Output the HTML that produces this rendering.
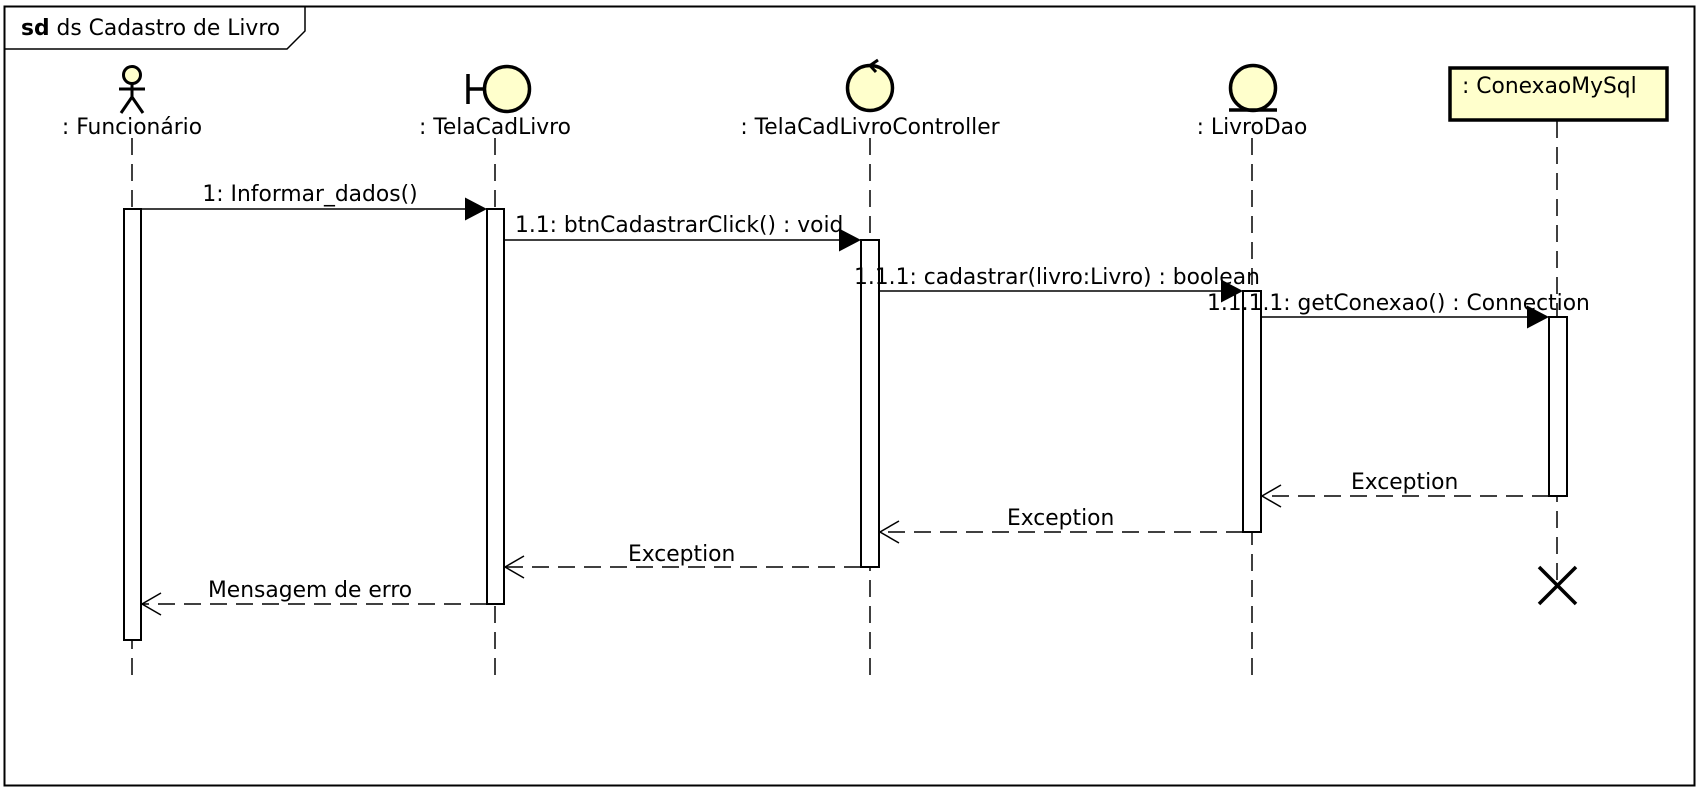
<!DOCTYPE html>
<html><head><meta charset="utf-8"><style>
html,body{margin:0;padding:0;background:#fff;}
svg{display:block;}
text{font-family:"DejaVu Sans","Liberation Sans",sans-serif;font-size:21.8px;fill:#000;}
</style></head><body>
<svg width="1700" height="791" viewBox="0 0 1700 791" xmlns="http://www.w3.org/2000/svg">
<rect x="0" y="0" width="1700" height="791" fill="#fff"/>
<!-- frame -->
<rect x="4.5" y="6.5" width="1690" height="779" fill="none" stroke="#000" stroke-width="2"/>
<path d="M4.5 49 L287 49 L305 31 L305 6.5" fill="none" stroke="#000" stroke-width="1.5"/>
<text x="21" y="35"><tspan font-weight="bold">sd</tspan> ds Cadastro de Livro</text>

<!-- lifelines -->
<g stroke="#000" stroke-width="1.5" stroke-dasharray="17,9" fill="none">
<line x1="132" y1="138" x2="132" y2="680"/>
<line x1="495" y1="138" x2="495" y2="680"/>
<line x1="870" y1="138" x2="870" y2="680"/>
<line x1="1252" y1="138" x2="1252" y2="680"/>
<line x1="1557" y1="121" x2="1557" y2="585"/>
</g>

<!-- actor -->
<g stroke="#000" stroke-width="3" fill="none">
<circle cx="132" cy="75" r="8.5" fill="#ffffcc"/>
<line x1="132" y1="84" x2="132" y2="97"/>
<line x1="119" y1="89" x2="145" y2="89"/>
<line x1="132" y1="97" x2="121" y2="113"/>
<line x1="132" y1="97" x2="143" y2="113"/>
</g>
<text x="132" y="134" text-anchor="middle">: Funcionário</text>

<!-- boundary -->
<g stroke="#000" stroke-width="3.5" fill="none">
<line x1="468" y1="74" x2="468" y2="104"/>
<line x1="468" y1="89" x2="484" y2="89"/>
<circle cx="507" cy="89" r="22.5" fill="#ffffcc"/>
</g>
<text x="495" y="134" text-anchor="middle">: TelaCadLivro</text>

<!-- control -->
<g stroke="#000" stroke-width="3.5" fill="none">
<circle cx="870" cy="88" r="22.5" fill="#ffffcc"/>
<path d="M878 60 L870 65.5 L876 72" stroke-width="3"/>
</g>
<text x="870" y="134" text-anchor="middle">: TelaCadLivroController</text>

<!-- entity -->
<g stroke="#000" stroke-width="3.5" fill="none">
<circle cx="1253" cy="88" r="22.5" fill="#ffffcc"/>
<line x1="1229" y1="110" x2="1277" y2="110"/>
</g>
<text x="1252" y="134" text-anchor="middle">: LivroDao</text>

<!-- class box -->
<rect x="1450" y="68" width="217" height="52" fill="#ffffcc" stroke="#000" stroke-width="3.5"/>
<text x="1462" y="93">: ConexaoMySql</text>

<!-- activations -->
<g fill="#fff" stroke="#000" stroke-width="2">
<rect x="124" y="209" width="17" height="431"/>
<rect x="487" y="209" width="17" height="395"/>
<rect x="861" y="240" width="18" height="327"/>
<rect x="1243" y="291" width="18" height="241"/>
<rect x="1549" y="317" width="18" height="179"/>
</g>

<!-- sync messages -->
<g stroke="#000" stroke-width="1.5">
<line x1="141" y1="209" x2="466" y2="209"/>
<line x1="504" y1="240" x2="840" y2="240"/>
<line x1="879" y1="291" x2="1222" y2="291"/>
<line x1="1261" y1="317" x2="1528" y2="317"/>
</g>
<g fill="#000">
<polygon points="487,209 465,197.5 465,220.5"/>
<polygon points="861,240 839,228.5 839,251.5"/>
<polygon points="1243,291 1221,279.5 1221,302.5"/>
<polygon points="1549,317 1527,305.5 1527,328.5"/>
</g>
<text x="310" y="201" text-anchor="middle">1: Informar_dados()</text>
<text x="515" y="232">1.1: btnCadastrarClick() : void</text>
<text x="854" y="284">1.1.1: cadastrar(livro:Livro) : boolean</text>
<text x="1207" y="310">1.1.1.1: getConexao() : Connection</text>

<!-- returns -->
<g stroke="#000" stroke-width="1.5" fill="none">
<line x1="1549" y1="496" x2="1262" y2="496" stroke-dasharray="17,9"/>
<path d="M1281 485 L1262 496 L1281 507"/>
<line x1="1243" y1="532" x2="880" y2="532" stroke-dasharray="17,9"/>
<path d="M899 521 L880 532 L899 543"/>
<line x1="861" y1="567" x2="505" y2="567" stroke-dasharray="17,9"/>
<path d="M524 556 L505 567 L524 578"/>
<line x1="487" y1="604" x2="142" y2="604" stroke-dasharray="17,9"/>
<path d="M161 593 L142 604 L161 615"/>
</g>
<text x="1351" y="489">Exception</text>
<text x="1007" y="525">Exception</text>
<text x="628" y="561">Exception</text>
<text x="208" y="597">Mensagem de erro</text>

<!-- destroy -->
<g stroke="#000" stroke-width="3.5">
<line x1="1539" y1="567" x2="1576" y2="604"/>
<line x1="1576" y1="567" x2="1539" y2="604"/>
</g>
</svg>
</body></html>
